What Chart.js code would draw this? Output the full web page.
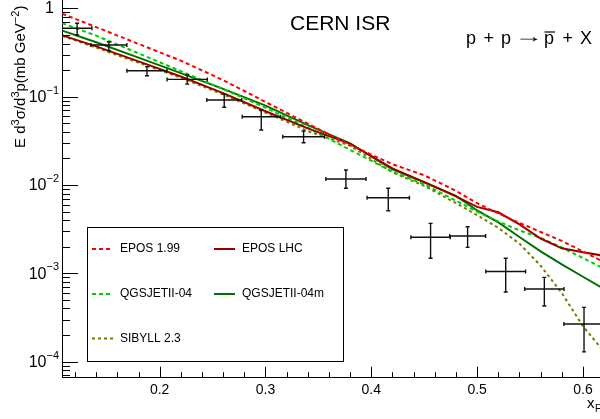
<!DOCTYPE html>
<html>
<head>
<meta charset="utf-8">
<script src="https://cdn.jsdelivr.net/npm/chart.js@4.4.1/dist/chart.umd.min.js"></script>
<style>
  html, body { margin: 0; padding: 0; background: #fff; overflow: hidden; }
</style>
</head>
<body>
<canvas id="myChart" width="600" height="419"></canvas>
<script>
const FONT = "'Liberation Sans', Arial, Helvetica, sans-serif";

// model curves, E d3s/d3p vs xF
const xF = [0.108, 0.14, 0.18, 0.22, 0.26, 0.30, 0.34, 0.38, 0.42, 0.45, 0.48, 0.50, 0.52, 0.54, 0.56, 0.58, 0.60, 0.62];
const epos199 = [0.87, 0.614, 0.396, 0.256, 0.154, 0.0873, 0.0495, 0.0284, 0.0172, 0.0129, 0.00859, 0.00622, 0.00478, 0.00372, 0.00294, 0.00233, 0.00177, 0.00134];
const eposLHC = [0.495, 0.372, 0.251, 0.1695, 0.1097, 0.0684, 0.0438, 0.0292, 0.01545, 0.01079, 0.00745, 0.00566, 0.00491, 0.00359, 0.00248, 0.00192, 0.00173, 0.00158];
const qgsjet04 = [0.68, 0.491, 0.310, 0.195, 0.122, 0.0752, 0.0446, 0.0250, 0.01415, 0.01016, 0.00666, 0.00498, 0.00387, 0.00306, 0.00252, 0.00196, 0.00149, 0.00113];
const qgsjet04m = [0.56, 0.414, 0.277, 0.185, 0.1225, 0.0793, 0.0476, 0.0297, 0.01502, 0.01076, 0.00753, 0.00515, 0.00377, 0.00258, 0.00177, 0.00126, 0.000915, 0.000664];
const sibyll23 = [0.487, 0.360, 0.243, 0.164, 0.106, 0.0662, 0.0409, 0.0278, 0.01393, 0.00979, 0.00625, 0.00456, 0.00327, 0.00217, 0.00122, 0.000598, 0.000252, 0.000129];

// CERN ISR measurements
const dataX = [0.122, 0.152, 0.188, 0.226, 0.261, 0.296, 0.336, 0.376, 0.416, 0.456, 0.491, 0.527, 0.5635, 0.601];
const dataXErr = [0.014, 0.017, 0.019, 0.019, 0.0165, 0.018, 0.0197, 0.019, 0.02, 0.0186, 0.017, 0.0188, 0.0186, 0.019];
const dataY = [0.595, 0.385, 0.197, 0.157, 0.0918, 0.0594, 0.0352, 0.0117, 0.00718, 0.00256, 0.00265, 0.00105, 0.000664, 0.000267];
const dataYLow = [0.500, 0.332, 0.173, 0.139, 0.0759, 0.0420, 0.0301, 0.00918, 0.00512, 0.00148, 0.00197, 0.000614, 0.000426, 0.000129];
const dataYHigh = [0.678, 0.420, 0.219, 0.176, 0.1064, 0.0707, 0.0409, 0.0148, 0.00918, 0.00368, 0.00337, 0.00148, 0.000901, 0.000412];

const xTicks = [0.2, 0.3, 0.4, 0.5, 0.6];
const yDecades = [-4, -3, -2, -1, 0];

const models = [
  { label: 'EPOS 1.99', values: epos199, color: '#ff0000', dash: [4, 3] },
  { label: 'EPOS LHC', values: eposLHC, color: '#990000', dash: [] },
  { label: 'QGSJETII-04', values: qgsjet04, color: '#00cc00', dash: [4, 3] },
  { label: 'QGSJETII-04m', values: qgsjet04m, color: '#007000', dash: [] },
  { label: 'SIBYLL 2.3', values: sibyll23, color: '#7a7a00', dash: [3, 3] },
];

function supText(ctx, parts, x, y) {
  // parts: [text, isSup]
  let cx = x;
  parts.forEach(([t, sup]) => {
    ctx.font = (sup ? '11px ' : '15px ') + FONT;
    ctx.fillText(t, cx, sup ? y - 6 : y);
    cx += ctx.measureText(t).width;
  });
}

const errorBars = {
  id: 'errorBars',
  afterDatasetsDraw(chart) {
    const { ctx, chartArea, scales: { x, y } } = chart;
    ctx.save();
    ctx.beginPath();
    ctx.rect(chartArea.left, chartArea.top, chartArea.width, chartArea.height);
    ctx.clip();
    ctx.strokeStyle = '#111';
    ctx.lineWidth = 1.4;
    dataX.forEach((xv, i) => {
      const px = x.getPixelForValue(xv), py = y.getPixelForValue(dataY[i]);
      const x0 = x.getPixelForValue(xv - dataXErr[i]), x1 = x.getPixelForValue(xv + dataXErr[i]);
      const y0 = y.getPixelForValue(dataYLow[i]), y1 = y.getPixelForValue(dataYHigh[i]);
      ctx.beginPath();
      ctx.moveTo(x0, py); ctx.lineTo(x1, py);
      ctx.moveTo(px, y0); ctx.lineTo(px, y1);
      ctx.moveTo(x0, py - 2); ctx.lineTo(x0, py + 2);
      ctx.moveTo(x1, py - 2); ctx.lineTo(x1, py + 2);
      ctx.moveTo(px - 2, y0); ctx.lineTo(px + 2, y0);
      ctx.moveTo(px - 2, y1); ctx.lineTo(px + 2, y1);
      ctx.stroke();
    });
    ctx.restore();
  }
};

const legendBox = {
  id: 'legendBox',
  afterDatasetsDraw(chart) {
    const ctx = chart.ctx;
    const slots = [[92, 249], [214, 249], [92, 294], [214, 294], [92, 338.5]];
    ctx.save();
    ctx.fillStyle = '#fff';
    ctx.fillRect(87, 227, 256, 134);
    ctx.strokeStyle = '#000';
    ctx.lineWidth = 1;
    ctx.strokeRect(87.5, 227.5, 256, 134);
    models.forEach((m, i) => {
      const [lx, ly] = slots[i];
      ctx.beginPath();
      ctx.strokeStyle = m.color;
      ctx.lineWidth = 2;
      ctx.setLineDash(m.dash);
      ctx.moveTo(lx, ly); ctx.lineTo(lx + 21, ly);
      ctx.stroke();
      ctx.setLineDash([]);
      ctx.fillStyle = '#000';
      ctx.font = '12px ' + FONT;
      ctx.textBaseline = 'middle';
      ctx.fillText(m.label, lx + 28, ly);
    });
    ctx.restore();
  }
};

const frameDeco = {
  id: 'frameDeco',
  afterDraw(chart) {
    const { ctx, chartArea: ca, scales: { x, y } } = chart;
    ctx.save();
    ctx.strokeStyle = '#000';
    ctx.lineWidth = 1;
    ctx.beginPath();
    // x ticks, inward
    for (let v = 0.12; v < 0.62; v += 0.02) {
      const px = Math.round(x.getPixelForValue(v)) + 0.5;
      const major = Math.abs(v * 10 - Math.round(v * 10)) < 1e-6;
      ctx.moveTo(px, ca.bottom); ctx.lineTo(px, ca.bottom - (major ? 11 : 5.5));
    }
    // y ticks, inward
    for (let e = -5; e <= 0; e++) {
      for (let k = 1; k <= 9; k++) {
        const v = k * Math.pow(10, e);
        if (v < y.min || v > y.max) continue;
        const py = Math.round(y.getPixelForValue(v)) + 0.5;
        ctx.moveTo(ca.left, py); ctx.lineTo(ca.left + (k === 1 ? 16 : 8), py);
      }
    }
    ctx.stroke();

    // y labels
    ctx.fillStyle = '#000';
    ctx.textBaseline = 'middle';
    yDecades.forEach(e => {
      const py = y.getPixelForValue(Math.pow(10, e));
      if (e === 0) {
        ctx.font = '16px ' + FONT;
        ctx.textAlign = 'right';
        ctx.fillText('1', 54, py);
        return;
      }
      ctx.textAlign = 'left';
      ctx.font = '16px ' + FONT;
      const wBase = ctx.measureText('10').width;
      ctx.font = '11px ' + FONT;
      const sup = '\u2212' + Math.abs(e);
      const wSup = ctx.measureText(sup).width;
      const x0 = 59 - wBase - wSup;
      ctx.font = '16px ' + FONT;
      ctx.fillText('10', x0, py + 1);
      ctx.font = '11px ' + FONT;
      ctx.fillText(sup, x0 + wBase, py - 6);
    });

    // y title
    ctx.save();
    ctx.translate(25, 148);
    ctx.rotate(-Math.PI / 2);
    ctx.textAlign = 'left';
    ctx.textBaseline = 'alphabetic';
    supText(ctx, [['E d', 0], ['3', 1], ['\u03c3/d', 0], ['3', 1], ['p(mb GeV', 0], ['\u22122', 1], [')', 0]], 0, 0);
    ctx.restore();

    // x title
    ctx.textAlign = 'left';
    ctx.textBaseline = 'alphabetic';
    ctx.font = '15px ' + FONT;
    ctx.fillText('x', 587, 408);
    ctx.font = '10px ' + FONT;
    ctx.fillText('F', 595, 412);

    // titles
    ctx.font = '21px ' + FONT;
    ctx.fillText('CERN ISR', 290, 30);
    ctx.font = '18px ' + FONT;
    ctx.fillText('p', 466, 44);
    ctx.fillText('+', 483.5, 44);
    ctx.fillText('p', 501, 44);
    ctx.fillText('p', 544, 44);
    ctx.fillText('+', 562.5, 44);
    ctx.fillText('X', 580, 44);
    ctx.beginPath();
    ctx.lineWidth = 1.2;
    ctx.moveTo(544.5, 32); ctx.lineTo(555, 32);
    ctx.stroke();
    // stretched arrow glyph between 519 and 538, centred on y = 39
    const arrow = '\u2192';
    const m = ctx.measureText(arrow);
    const inkW = m.actualBoundingBoxLeft + m.actualBoundingBoxRight;
    const inkMid = (m.actualBoundingBoxDescent - m.actualBoundingBoxAscent) / 2;
    const sx = 19 / inkW;
    ctx.save();
    ctx.translate(519, 39);
    ctx.scale(sx, 1);
    ctx.fillText(arrow, m.actualBoundingBoxLeft, -inkMid);
    ctx.restore();
    ctx.restore();
  }
};

const datasets = models.map(m => ({
  label: m.label,
  data: xF.map((xv, i) => ({ x: xv, y: m.values[i] })),
  borderColor: m.color,
  borderWidth: 2,
  borderDash: m.dash,
  pointRadius: 0,
  tension: 0,
  fill: false,
}));
datasets.push({
  type: 'scatter',
  label: 'CERN ISR data',
  data: dataX.map((xv, i) => ({ x: xv, y: dataY[i] })),
  pointRadius: 0,
  borderColor: '#000',
});

const ctx = document.getElementById('myChart');
const myChart = new Chart(ctx, {
  type: 'line',
  data: { datasets },
  options: {
    responsive: false,
    animation: false,
    layout: { padding: 0 },
    plugins: {
      legend: { display: false },
      tooltip: { enabled: false },
    },
    scales: {
      x: {
        type: 'linear',
        min: 0.1077,
        max: 0.6161,
        afterFit: (s) => { s.height = 41.3; },
        afterBuildTicks: (s) => { s.ticks = xTicks.map(v => ({ value: v })); },
        grid: { display: false, drawTicks: false },
        border: { display: true, color: '#000', width: 1 },
        ticks: {
          autoSkip: false,
          maxRotation: 0,
          padding: 4,
          color: '#000',
          font: { family: FONT, size: 14 },
          callback: (v) => v.toFixed(1),
        },
      },
      y: {
        type: 'logarithmic',
        min: 6.58e-5,
        max: 1.245,
        afterFit: (s) => { s.width = 62; },
        grid: { display: false, drawTicks: false },
        border: { display: true, color: '#000', width: 1 },
        ticks: { display: false },
      },
    },
  },
  plugins: [errorBars, legendBox, frameDeco],
});
</script>
</body>
</html>
